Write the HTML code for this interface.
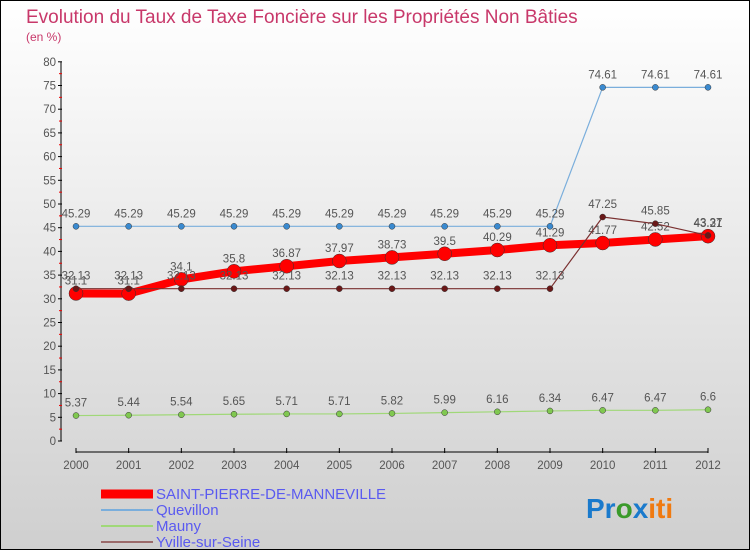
<!DOCTYPE html>
<html><head><meta charset="utf-8"><style>
body{margin:0}
#c{width:748px;height:548px;border:1px solid #000;background:linear-gradient(#fff,#cfcfcf);position:relative;font-family:"Liberation Sans",sans-serif;overflow:hidden}
svg text{font-family:"Liberation Sans",sans-serif}
</style></head><body>
<div id="c">
<svg id="s" width="748" height="548">
<text x="25" y="22" font-size="19" fill="#c8386a">Evolution du Taux de Taxe Foncière sur les Propriétés Non Bâties</text>
<text x="25" y="40" font-size="12" fill="#c8386a">(en %)</text>
<text x="585" y="517" font-size="28" font-weight="bold"><tspan fill="#1a7acc">Pr</tspan><tspan fill="#3a9a2a">o</tspan><tspan fill="#1a7acc">x</tspan><tspan fill="#f07a10">iti</tspan></text>
</svg></div>
<script>
const years=[2000,2001,2002,2003,2004,2005,2006,2007,2008,2009,2010,2011,2012];
const yTicks=[0,5,10,15,20,25,30,35,40,45,50,55,60,65,70,75,80];
const spm=[31.13,31.1,34.1,35.8,36.87,37.97,38.73,39.5,40.29,41.29,41.77,42.52,43.21];
const quevillon=[45.29,45.29,45.29,45.29,45.29,45.29,45.29,45.29,45.29,45.29,74.61,74.61,74.61];
const mauny=[5.37,5.44,5.54,5.65,5.71,5.71,5.82,5.99,6.16,6.34,6.47,6.47,6.6];
const yville=[32.13,32.13,32.13,32.13,32.13,32.13,32.13,32.13,32.13,32.13,47.25,45.85,43.37];
const spmLabels=["31.1","31.1","34.1","35.8","36.87","37.97","38.73","39.5","40.29","41.29","41.77","42.52","43.21"];
const NS="http://www.w3.org/2000/svg",s=document.getElementById('s');
const x=i=>75+i*(632/12), y=v=>440-v*4.74;
function el(t,a){const e=document.createElementNS(NS,t);for(const k in a)e.setAttribute(k,a[k]);s.appendChild(e);return e;}
let e=el('line',{x1:60,y1:y(80),x2:60,y2:y(0),stroke:'#000'});

yTicks.forEach(v=>{
 let t=el('line',{x1:57,x2:61,y1:y(v),y2:y(v),stroke:'#000'});
 
 let m=el('line',{x1:58,x2:61,y1:y(v+2.5),y2:y(v+2.5),stroke:'#e00'});
 if(v==80)m.remove();
 let l=el('text',{x:55,y:y(v)+4,'font-size':11.5,fill:'#555','text-anchor':'end'});l.textContent=v;
 
});
e=el('line',{x1:75,x2:707,y1:451,y2:451,stroke:'#000'});

years.forEach((yr,i)=>{
 el('line',{x1:x(i),x2:x(i),y1:447,y2:452,stroke:'#000'});
 let l=el('text',{x:x(i),y:468,'font-size':11.5,fill:'#555','text-anchor':'middle'});l.textContent=yr;
 
});
function series(d,col,w,r,dot,name,labels){
 let p=el('polyline',{points:d.map((v,i)=>x(i)+','+y(v)).join(' '),fill:'none',stroke:col,'stroke-width':w});
 
 d.forEach((v,i)=>{
  let c=el('circle',{cx:x(i),cy:y(v),r:r,fill:dot,stroke:'#333','stroke-width':0.5});
  
  let t=el('text',{x:x(i),y:y(v)-9,'font-size':11.5,fill:'#555','text-anchor':'middle'});
  t.textContent=labels?labels[i]:String(v);
  
 });
}
series(quevillon,'#7aaedc',1.2,3,'#3a8ad0','quevillon');
series(mauny,'#a0d878',1.2,3,'#80c850','mauny');
series(spm,'#f00',8,7,'#f00','saint-pierre',spmLabels);
series(yville,'#7a3030',1.2,3,'#6a1818','yville');
const leg=[['SAINT-PIERRE-DE-MANNEVILLE','#f00',9],['Quevillon','#7aaedc',2],['Mauny','#a0d878',2],['Yville-sur-Seine','#9a6a6a',2]];
leg.forEach((L,i)=>{
 const yy=493+i*16;
 let l=el('line',{x1:100,x2:152,y1:yy,y2:yy,stroke:L[1],'stroke-width':L[2]});
 
 let t=el('text',{x:155,y:yy+5,'font-size':15,fill:'#5a5af0'});t.textContent=L[0];
 
});
</script></body></html>
